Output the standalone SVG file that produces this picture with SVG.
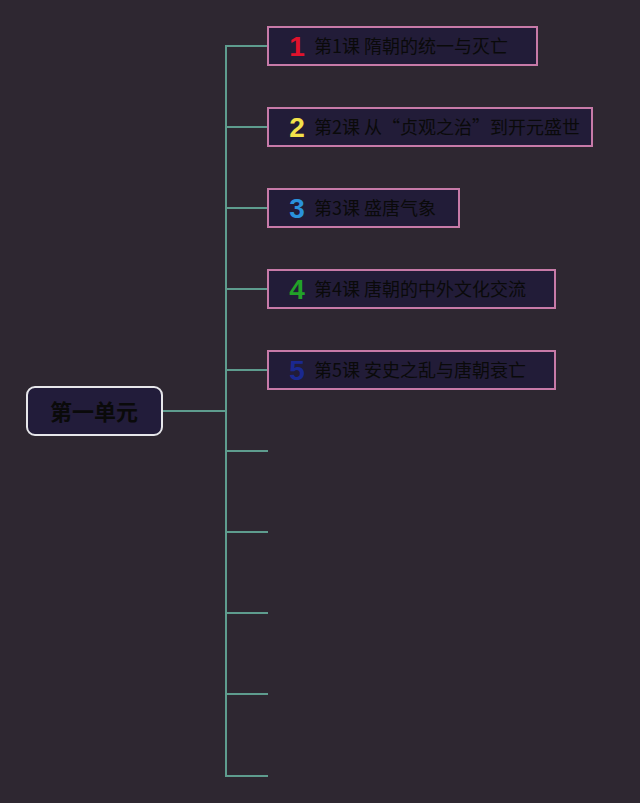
<svg xmlns="http://www.w3.org/2000/svg" width="640" height="803" viewBox="0 0 640 803">
<style>
.bg{fill:#2e2731}
.conn line{stroke:#5e9c8e;stroke-width:2}
.box{fill:#221c38;stroke:#c77aa8;stroke-width:2}
.num{font-family:"Liberation Sans","DejaVu Sans",sans-serif;font-weight:bold;font-size:28px;text-anchor:middle}
.lbl{font-family:"Noto Sans CJK SC","Noto Sans",sans-serif;font-size:18px;fill:#0a0a0a}
.root{fill:#221c3a;stroke:#e6e6ea;stroke-width:2}
.rootlbl{font-family:"Noto Sans CJK SC","Noto Sans",sans-serif;font-size:22px;font-weight:bold;fill:#0a0a0a;text-anchor:middle}
</style>
<rect class="bg" x="0" y="0" width="640" height="803"/>
<g id="connectors" class="conn">
<line x1="162" y1="411" x2="226" y2="411"/>
<line x1="226" y1="45" x2="226" y2="777"/>
<line x1="225" y1="46" x2="268" y2="46"/>
<line x1="225" y1="127" x2="268" y2="127"/>
<line x1="225" y1="208" x2="268" y2="208"/>
<line x1="225" y1="289" x2="268" y2="289"/>
<line x1="225" y1="370" x2="268" y2="370"/>
<line x1="225" y1="451" x2="268" y2="451"/>
<line x1="225" y1="532" x2="268" y2="532"/>
<line x1="225" y1="613" x2="268" y2="613"/>
<line x1="225" y1="694" x2="268" y2="694"/>
<line x1="225" y1="776" x2="268" y2="776"/>
</g>
<g id="root">
<rect class="root" x="27" y="387" width="135" height="48" rx="8"/>
<text class="rootlbl" x="94" y="420">第一单元</text>
</g>
<g id="n1">
<rect class="box" x="268" y="27" width="269" height="38"/>
<text class="num" x="297" y="56" fill="#e0122c">1</text>
<text class="lbl" x="314" y="53">第1课 隋朝的统一与灭亡</text>
</g>
<g id="n2">
<rect class="box" x="268" y="108" width="324" height="38"/>
<text class="num" x="297" y="137" fill="#f2e24a">2</text>
<text class="lbl" x="314" y="134">第2课 从“贞观之治”到开元盛世</text>
</g>
<g id="n3">
<rect class="box" x="268" y="189" width="191" height="38"/>
<text class="num" x="297" y="218" fill="#2a92dc">3</text>
<text class="lbl" x="314" y="215">第3课 盛唐气象</text>
</g>
<g id="n4">
<rect class="box" x="268" y="270" width="287" height="38"/>
<text class="num" x="297" y="299" fill="#22a228">4</text>
<text class="lbl" x="314" y="296">第4课 唐朝的中外文化交流</text>
</g>
<g id="n5">
<rect class="box" x="268" y="351" width="287" height="38"/>
<text class="num" x="297" y="380" fill="#1a2890">5</text>
<text class="lbl" x="314" y="377">第5课 安史之乱与唐朝衰亡</text>
</g>
</svg>
